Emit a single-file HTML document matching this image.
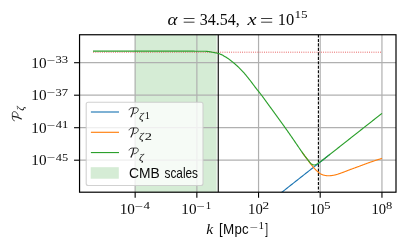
<!DOCTYPE html>
<html><head><meta charset="utf-8"><style>
html,body{margin:0;padding:0;background:#fff;width:408px;height:249px;overflow:hidden}
svg{display:block;will-change:transform}
.s{font-family:"Liberation Serif",serif}
.ss{font-family:"Liberation Sans",sans-serif}
text{fill:#0a0a0a}
</style></head><body>
<svg width="408" height="249" viewBox="0 0 408 249">
<defs><clipPath id="ax"><rect x="79.55" y="34.75" width="316.45" height="157.45"/></clipPath>
<path id="calP" d="M0.2,2.2 C0.6,0.9 1.6,0.3 3.2,0.2 L6.8,0.1 C8.6,0.05 9.5,0.8 9.4,2.2 C9.2,4.0 7.5,5.7 5.0,6.0" fill="none" stroke="#1a1a1a" stroke-width="0.8" stroke-linecap="round"/>
<path id="calS" d="M4.7,0.7 C4.5,3.6 3.7,6.6 2.1,9.2" fill="none" stroke="#1a1a1a" stroke-width="1.2" stroke-linecap="round"/>
</defs>
<rect x="134.8" y="34.75" width="81.8" height="157.45" fill="#2ca02c" fill-opacity="0.2"/>
<g stroke="#b0b0b0" stroke-width="1.2" fill="none">
<line x1="135.15" y1="34.75" x2="135.15" y2="192.2"/>
<line x1="196.85" y1="34.75" x2="196.85" y2="192.2"/>
<line x1="258.55" y1="34.75" x2="258.55" y2="192.2"/>
<line x1="320.2" y1="34.75" x2="320.2" y2="192.2"/>
<line x1="381.95" y1="34.75" x2="381.95" y2="192.2"/>
<line x1="79.55" y1="62.7" x2="396.0" y2="62.7"/>
<line x1="79.55" y1="95.2" x2="396.0" y2="95.2"/>
<line x1="79.55" y1="127.7" x2="396.0" y2="127.7"/>
<line x1="79.55" y1="160.2" x2="396.0" y2="160.2"/>
</g>
<g clip-path="url(#ax)" fill="none" stroke-linejoin="round" stroke-linecap="butt">
<line x1="93.2" y1="52.2" x2="382.2" y2="52.2" stroke="#e03535" stroke-opacity="0.85" stroke-width="1.0" stroke-dasharray="0.88 1.31"/>
<line x1="218.25" y1="34.75" x2="218.25" y2="192.2" stroke="#000" stroke-width="1.1"/>
<line x1="318.4" y1="34.75" x2="318.4" y2="192.2" stroke="#000" stroke-width="1.1" stroke-dasharray="3.12 1.35" stroke-dashoffset="0.32"/>
<path d="M270.00,201.60 L271.02,200.80 L272.03,200.00 L273.05,199.19 L274.07,198.39 L275.08,197.59 L276.10,196.79 L277.12,195.99 L278.14,195.19 L279.15,194.39 L280.17,193.58 L281.19,192.78 L282.20,191.98 L283.22,191.18 L284.24,190.38 L285.25,189.58 L286.27,188.78 L287.29,187.98 L288.31,187.17 L289.32,186.37 L290.34,185.57 L291.36,184.77 L292.37,183.97 L293.39,183.17 L294.41,182.37 L295.42,181.56 L296.44,180.76 L297.46,179.96 L298.47,179.16 L299.49,178.36 L300.51,177.56 L301.53,176.76 L302.54,175.96 L303.56,175.15 L304.58,174.35 L305.59,173.55 L306.61,172.75 L307.63,171.95 L308.64,171.15 L309.66,170.35 L310.68,169.54 L311.69,168.74 L312.71,167.94 L313.73,167.14 L314.75,166.34 L315.76,165.54 L316.78,164.74 L317.80,163.93 L318.81,163.13 L319.83,162.33 L320.85,161.53 L321.86,160.73 L322.88,159.93 L323.90,159.13 L324.92,158.33 L325.93,157.52 L326.95,156.72 L327.97,155.92 L328.98,155.12 L330.00,154.32" stroke="#1f77b4" stroke-width="1.15"/>
<path d="M302.00,152.08 L302.40,152.66 L302.80,153.23 L303.21,153.80 L303.61,154.36 L304.01,154.91 L304.41,155.46 L304.81,156.00 L305.22,156.53 L305.62,157.06 L306.02,157.58 L306.42,158.11 L306.82,158.63 L307.23,159.16 L307.63,159.69 L308.03,160.23 L308.43,160.78 L308.83,161.35 L309.24,161.94 L309.64,162.52 L310.04,163.10 L310.44,163.66 L310.84,164.19 L311.25,164.70 L311.65,165.21 L312.05,165.70 L312.45,166.18 L312.85,166.65 L313.26,167.12 L313.66,167.58 L314.06,168.04 L314.46,168.49 L314.86,168.93 L315.27,169.36 L315.67,169.77 L316.07,170.17 L316.47,170.55 L316.87,170.93 L317.28,171.30 L317.68,171.65 L318.08,171.99 L318.48,172.31 L318.88,172.62 L319.29,172.92 L319.69,173.22 L320.09,173.50 L320.49,173.76 L320.89,174.00 L321.30,174.20 L321.70,174.38 L322.10,174.55 L322.50,174.71 L322.90,174.86 L323.31,175.00 L323.71,175.12 L324.11,175.22 L324.51,175.30 L324.91,175.38 L325.32,175.45 L325.72,175.52 L326.12,175.59 L326.52,175.65 L326.92,175.70 L327.33,175.74 L327.73,175.77 L328.13,175.79 L328.53,175.80 L328.93,175.79 L329.34,175.77 L329.74,175.75 L330.14,175.71 L330.54,175.67 L330.94,175.63 L331.35,175.58 L331.75,175.53 L332.15,175.48 L332.55,175.43 L332.95,175.36 L333.36,175.29 L333.76,175.21 L334.16,175.13 L334.56,175.04 L334.96,174.95 L335.37,174.85 L335.77,174.76 L336.17,174.66 L336.57,174.55 L336.97,174.43 L337.38,174.31 L337.78,174.18 L338.18,174.05 L338.58,173.92 L338.98,173.78 L339.39,173.64 L339.79,173.50 L340.19,173.37 L340.59,173.23 L340.99,173.08 L341.40,172.94 L341.80,172.79 L342.20,172.64 L342.60,172.49 L343.01,172.34 L343.41,172.19 L343.81,172.03 L344.21,171.88 L344.61,171.72 L345.02,171.57 L345.42,171.41 L345.82,171.25 L346.22,171.10 L346.62,170.94 L347.03,170.78 L347.43,170.63 L347.83,170.47 L348.23,170.32 L348.63,170.16 L349.04,170.01 L349.44,169.86 L349.84,169.71 L350.24,169.56 L350.64,169.41 L351.05,169.26 L351.45,169.12 L351.85,168.97 L352.25,168.82 L352.65,168.67 L353.06,168.52 L353.46,168.38 L353.86,168.23 L354.26,168.08 L354.66,167.93 L355.07,167.79 L355.47,167.64 L355.87,167.49 L356.27,167.35 L356.67,167.20 L357.08,167.05 L357.48,166.91 L357.88,166.76 L358.28,166.61 L358.68,166.46 L359.09,166.32 L359.49,166.17 L359.89,166.02 L360.29,165.87 L360.69,165.72 L361.10,165.57 L361.50,165.42 L361.90,165.27 L362.30,165.12 L362.70,164.97 L363.11,164.82 L363.51,164.67 L363.91,164.52 L364.31,164.37 L364.71,164.22 L365.12,164.07 L365.52,163.92 L365.92,163.77 L366.32,163.62 L366.72,163.48 L367.13,163.33 L367.53,163.18 L367.93,163.04 L368.33,162.89 L368.73,162.75 L369.14,162.60 L369.54,162.46 L369.94,162.32 L370.34,162.18 L370.74,162.04 L371.15,161.90 L371.55,161.76 L371.95,161.63 L372.35,161.49 L372.75,161.35 L373.16,161.21 L373.56,161.08 L373.96,160.94 L374.36,160.81 L374.76,160.67 L375.17,160.54 L375.57,160.40 L375.97,160.27 L376.37,160.14 L376.77,160.01 L377.18,159.87 L377.58,159.74 L377.98,159.61 L378.38,159.48 L378.78,159.35 L379.19,159.22 L379.59,159.10 L379.99,158.97 L380.39,158.84 L380.79,158.71 L381.20,158.59 L381.60,158.46 L382.00,158.34" stroke="#ff7f0e" stroke-width="1.15"/>
<path d="M93.00,51.10 L93.48,51.10 L93.96,51.10 L94.45,51.10 L94.93,51.10 L95.41,51.10 L95.89,51.10 L96.38,51.10 L96.86,51.10 L97.34,51.10 L97.82,51.10 L98.31,51.10 L98.79,51.10 L99.27,51.10 L99.75,51.10 L100.24,51.10 L100.72,51.10 L101.20,51.10 L101.68,51.10 L102.17,51.10 L102.65,51.10 L103.13,51.10 L103.61,51.10 L104.10,51.10 L104.58,51.10 L105.06,51.10 L105.54,51.10 L106.03,51.10 L106.51,51.10 L106.99,51.10 L107.47,51.10 L107.96,51.10 L108.44,51.10 L108.92,51.10 L109.40,51.10 L109.89,51.10 L110.37,51.10 L110.85,51.10 L111.33,51.10 L111.82,51.10 L112.30,51.10 L112.78,51.10 L113.26,51.10 L113.75,51.10 L114.23,51.10 L114.71,51.10 L115.19,51.10 L115.68,51.10 L116.16,51.10 L116.64,51.10 L117.12,51.10 L117.61,51.10 L118.09,51.10 L118.57,51.10 L119.05,51.10 L119.54,51.10 L120.02,51.10 L120.50,51.10 L120.98,51.10 L121.47,51.10 L121.95,51.10 L122.43,51.10 L122.91,51.10 L123.40,51.10 L123.88,51.10 L124.36,51.10 L124.84,51.10 L125.33,51.10 L125.81,51.10 L126.29,51.10 L126.77,51.10 L127.26,51.10 L127.74,51.10 L128.22,51.10 L128.70,51.10 L129.19,51.10 L129.67,51.10 L130.15,51.10 L130.63,51.10 L131.12,51.10 L131.60,51.10 L132.08,51.10 L132.56,51.10 L133.05,51.10 L133.53,51.10 L134.01,51.10 L134.49,51.10 L134.97,51.10 L135.46,51.10 L135.94,51.10 L136.42,51.10 L136.90,51.10 L137.39,51.10 L137.87,51.10 L138.35,51.10 L138.83,51.10 L139.32,51.10 L139.80,51.10 L140.28,51.10 L140.76,51.10 L141.25,51.10 L141.73,51.10 L142.21,51.10 L142.69,51.10 L143.18,51.10 L143.66,51.10 L144.14,51.10 L144.62,51.10 L145.11,51.10 L145.59,51.10 L146.07,51.10 L146.55,51.10 L147.04,51.10 L147.52,51.10 L148.00,51.10 L148.48,51.10 L148.97,51.10 L149.45,51.10 L149.93,51.10 L150.41,51.10 L150.90,51.10 L151.38,51.10 L151.86,51.10 L152.34,51.10 L152.83,51.10 L153.31,51.10 L153.79,51.10 L154.27,51.10 L154.76,51.10 L155.24,51.10 L155.72,51.10 L156.20,51.10 L156.69,51.10 L157.17,51.10 L157.65,51.10 L158.13,51.10 L158.62,51.10 L159.10,51.10 L159.58,51.10 L160.06,51.10 L160.55,51.10 L161.03,51.10 L161.51,51.10 L161.99,51.10 L162.48,51.10 L162.96,51.10 L163.44,51.11 L163.92,51.11 L164.41,51.11 L164.89,51.11 L165.37,51.11 L165.85,51.11 L166.34,51.11 L166.82,51.11 L167.30,51.11 L167.78,51.11 L168.27,51.11 L168.75,51.11 L169.23,51.11 L169.71,51.11 L170.20,51.11 L170.68,51.11 L171.16,51.11 L171.64,51.11 L172.13,51.11 L172.61,51.12 L173.09,51.12 L173.57,51.12 L174.06,51.12 L174.54,51.12 L175.02,51.12 L175.50,51.12 L175.98,51.12 L176.47,51.12 L176.95,51.12 L177.43,51.12 L177.91,51.12 L178.40,51.12 L178.88,51.13 L179.36,51.13 L179.84,51.13 L180.33,51.13 L180.81,51.13 L181.29,51.13 L181.77,51.13 L182.26,51.13 L182.74,51.13 L183.22,51.13 L183.70,51.13 L184.19,51.14 L184.67,51.14 L185.15,51.14 L185.63,51.14 L186.12,51.14 L186.60,51.14 L187.08,51.14 L187.56,51.14 L188.05,51.15 L188.53,51.15 L189.01,51.15 L189.49,51.15 L189.98,51.15 L190.46,51.15 L190.94,51.15 L191.42,51.16 L191.91,51.16 L192.39,51.17 L192.87,51.17 L193.35,51.18 L193.84,51.19 L194.32,51.19 L194.80,51.20 L195.28,51.21 L195.77,51.21 L196.25,51.22 L196.73,51.23 L197.21,51.23 L197.70,51.24 L198.18,51.24 L198.66,51.25 L199.14,51.25 L199.63,51.25 L200.11,51.25 L200.59,51.25 L201.07,51.25 L201.56,51.25 L202.04,51.25 L202.52,51.25 L203.00,51.25 L203.49,51.25 L203.97,51.25 L204.45,51.25 L204.93,51.25 L205.42,51.26 L205.90,51.28 L206.38,51.31 L206.86,51.36 L207.35,51.42 L207.83,51.48 L208.31,51.55 L208.79,51.62 L209.28,51.69 L209.76,51.77 L210.24,51.84 L210.72,51.91 L211.21,52.00 L211.69,52.09 L212.17,52.19 L212.65,52.28 L213.14,52.38 L213.62,52.47 L214.10,52.56 L214.58,52.64 L215.07,52.73 L215.55,52.82 L216.03,52.92 L216.51,53.01 L216.99,53.12 L217.48,53.23 L217.96,53.35 L218.44,53.48 L218.92,53.63 L219.41,53.79 L219.89,53.98 L220.37,54.17 L220.85,54.38 L221.34,54.61 L221.82,54.85 L222.30,55.09 L222.78,55.35 L223.27,55.61 L223.75,55.88 L224.23,56.16 L224.71,56.44 L225.20,56.73 L225.68,57.01 L226.16,57.30 L226.64,57.59 L227.13,57.90 L227.61,58.22 L228.09,58.55 L228.57,58.89 L229.06,59.23 L229.54,59.59 L230.02,59.95 L230.50,60.33 L230.99,60.70 L231.47,61.08 L231.95,61.47 L232.43,61.86 L232.92,62.25 L233.40,62.65 L233.88,63.05 L234.36,63.45 L234.85,63.87 L235.33,64.28 L235.81,64.71 L236.29,65.14 L236.78,65.58 L237.26,66.02 L237.74,66.47 L238.22,66.92 L238.71,67.38 L239.19,67.85 L239.67,68.33 L240.15,68.81 L240.64,69.29 L241.12,69.78 L241.60,70.28 L242.08,70.79 L242.57,71.30 L243.05,71.83 L243.53,72.37 L244.01,72.92 L244.50,73.48 L244.98,74.05 L245.46,74.63 L245.94,75.21 L246.43,75.80 L246.91,76.40 L247.39,77.00 L247.87,77.59 L248.36,78.20 L248.84,78.80 L249.32,79.40 L249.80,80.02 L250.29,80.64 L250.77,81.27 L251.25,81.90 L251.73,82.54 L252.22,83.18 L252.70,83.83 L253.18,84.48 L253.66,85.12 L254.15,85.76 L254.63,86.41 L255.11,87.04 L255.59,87.67 L256.08,88.30 L256.56,88.91 L257.04,89.52 L257.52,90.13 L258.01,90.73 L258.49,91.33 L258.97,91.93 L259.45,92.54 L259.93,93.14 L260.42,93.75 L260.90,94.37 L261.38,95.00 L261.86,95.63 L262.35,96.27 L262.83,96.92 L263.31,97.57 L263.79,98.22 L264.28,98.88 L264.76,99.54 L265.24,100.21 L265.72,100.88 L266.21,101.54 L266.69,102.21 L267.17,102.89 L267.65,103.56 L268.14,104.23 L268.62,104.90 L269.10,105.56 L269.58,106.23 L270.07,106.89 L270.55,107.55 L271.03,108.21 L271.51,108.87 L272.00,109.53 L272.48,110.19 L272.96,110.86 L273.44,111.52 L273.93,112.18 L274.41,112.84 L274.89,113.50 L275.37,114.16 L275.86,114.82 L276.34,115.48 L276.82,116.15 L277.30,116.81 L277.79,117.48 L278.27,118.14 L278.75,118.81 L279.23,119.48 L279.72,120.15 L280.20,120.82 L280.68,121.49 L281.16,122.16 L281.65,122.83 L282.13,123.50 L282.61,124.18 L283.09,124.85 L283.58,125.52 L284.06,126.20 L284.54,126.88 L285.02,127.55 L285.51,128.23 L285.99,128.91 L286.47,129.58 L286.95,130.26 L287.44,130.94 L287.92,131.62 L288.40,132.31 L288.88,132.99 L289.37,133.68 L289.85,134.37 L290.33,135.06 L290.81,135.76 L291.30,136.46 L291.78,137.16 L292.26,137.87 L292.74,138.57 L293.23,139.28 L293.71,139.99 L294.19,140.69 L294.67,141.40 L295.16,142.11 L295.64,142.82 L296.12,143.52 L296.60,144.22 L297.09,144.92 L297.57,145.63 L298.05,146.33 L298.53,147.04 L299.02,147.74 L299.50,148.45 L299.98,149.15 L300.46,149.86 L300.94,150.56 L301.43,151.26 L301.91,151.95 L302.39,152.64 L302.87,153.32 L303.36,154.00 L303.84,154.67 L304.32,155.33 L304.80,155.97 L305.29,156.60 L305.77,157.22 L306.25,157.84 L306.73,158.45 L307.22,159.06 L307.70,159.67 L308.18,160.29 L308.66,160.91 L309.15,161.54 L309.63,162.15 L310.11,162.72 L310.59,163.23 L311.08,163.67 L311.56,164.05 L312.04,164.37 L312.52,164.62 L313.01,164.80 L313.49,164.91 L313.97,164.96 L314.45,164.95 L314.94,164.88 L315.42,164.75 L315.90,164.58 L316.38,164.36 L316.87,164.11 L317.35,163.84 L317.83,163.55 L318.31,163.24 L318.80,162.91 L319.28,162.57 L319.76,162.23 L320.24,161.88 L320.73,161.52 L321.21,161.16 L321.69,160.79 L322.17,160.42 L322.66,160.05 L323.14,159.68 L323.62,159.30 L324.10,158.93 L324.59,158.55 L325.07,158.18 L325.55,157.80 L326.03,157.42 L326.52,157.05 L327.00,156.67 L327.48,156.29 L327.96,155.91 L328.45,155.53 L328.93,155.15 L329.41,154.77 L329.89,154.39 L330.38,154.01 L330.86,153.64 L331.34,153.26 L331.82,152.88 L332.31,152.50 L332.79,152.12 L333.27,151.74 L333.75,151.36 L334.24,150.98 L334.72,150.60 L335.20,150.22 L335.68,149.84 L336.17,149.46 L336.65,149.08 L337.13,148.70 L337.61,148.32 L338.10,147.94 L338.58,147.56 L339.06,147.18 L339.54,146.80 L340.03,146.42 L340.51,146.04 L340.99,145.66 L341.47,145.28 L341.95,144.90 L342.44,144.52 L342.92,144.14 L343.40,143.76 L343.88,143.38 L344.37,143.00 L344.85,142.62 L345.33,142.24 L345.81,141.86 L346.30,141.48 L346.78,141.10 L347.26,140.72 L347.74,140.33 L348.23,139.95 L348.71,139.57 L349.19,139.19 L349.67,138.81 L350.16,138.43 L350.64,138.05 L351.12,137.67 L351.60,137.29 L352.09,136.91 L352.57,136.53 L353.05,136.15 L353.53,135.77 L354.02,135.39 L354.50,135.01 L354.98,134.63 L355.46,134.25 L355.95,133.87 L356.43,133.49 L356.91,133.11 L357.39,132.73 L357.88,132.35 L358.36,131.97 L358.84,131.59 L359.32,131.21 L359.81,130.83 L360.29,130.45 L360.77,130.07 L361.25,129.69 L361.74,129.31 L362.22,128.93 L362.70,128.55 L363.18,128.17 L363.67,127.79 L364.15,127.41 L364.63,127.03 L365.11,126.65 L365.60,126.27 L366.08,125.89 L366.56,125.51 L367.04,125.13 L367.53,124.75 L368.01,124.37 L368.49,123.99 L368.97,123.61 L369.46,123.23 L369.94,122.85 L370.42,122.47 L370.90,122.09 L371.39,121.71 L371.87,121.33 L372.35,120.95 L372.83,120.57 L373.32,120.19 L373.80,119.81 L374.28,119.43 L374.76,119.05 L375.25,118.66 L375.73,118.28 L376.21,117.90 L376.69,117.52 L377.18,117.14 L377.66,116.76 L378.14,116.38 L378.62,116.00 L379.11,115.62 L379.59,115.24 L380.07,114.86 L380.55,114.48 L381.04,114.10 L381.52,113.72 L382.00,113.34" stroke="#2ca02c" stroke-width="1.15"/>
</g>
<rect x="79.55" y="34.75" width="316.45" height="157.45" fill="none" stroke="#000" stroke-width="1.2"/>
<g stroke="#000" stroke-width="1.1">
<line x1="135.15" y1="192.2" x2="135.15" y2="197.7"/>
<line x1="196.85" y1="192.2" x2="196.85" y2="197.7"/>
<line x1="258.55" y1="192.2" x2="258.55" y2="197.7"/>
<line x1="320.2" y1="192.2" x2="320.2" y2="197.7"/>
<line x1="381.95" y1="192.2" x2="381.95" y2="197.7"/>
<line x1="79.55" y1="62.7" x2="74.05" y2="62.7"/>
<line x1="79.55" y1="95.2" x2="74.05" y2="95.2"/>
<line x1="79.55" y1="127.7" x2="74.05" y2="127.7"/>
<line x1="79.55" y1="160.2" x2="74.05" y2="160.2"/>
</g>
<rect x="86.2" y="102.2" width="116.8" height="83.3" rx="2" ry="2" fill="#fff" fill-opacity="0.8" stroke="#cccccc" stroke-opacity="0.9" stroke-width="1.1"/>
<line x1="90.9" y1="112.0" x2="119" y2="112.0" stroke="#1f77b4" stroke-width="1.15"/>
<line x1="90.9" y1="132.3" x2="119" y2="132.3" stroke="#ff7f0e" stroke-width="1.15"/>
<line x1="90.9" y1="152.55" x2="119" y2="152.55" stroke="#2ca02c" stroke-width="1.15"/>
<rect x="90.7" y="167.2" width="28.1" height="11.5" fill="#d5ecd5"/>
<g transform="translate(128.90,107.60)"><use href="#calP"/><use href="#calS"/></g>
<text class="s" font-style="italic" font-size="11.0" transform="translate(138.92,120.20) scale(1.060,1)">ζ</text>
<text class="s" font-size="9.5" transform="translate(144.80,119.40) scale(1.076,1)">1</text>
<g transform="translate(128.90,127.75)"><use href="#calP"/><use href="#calS"/></g>
<text class="s" font-style="italic" font-size="11.0" transform="translate(138.92,140.35) scale(1.060,1)">ζ</text>
<text class="s" font-size="9.5" transform="translate(144.76,139.55) scale(1.523,1)">2</text>
<g transform="translate(128.90,147.90)"><use href="#calP"/><use href="#calS"/></g>
<text class="s" font-style="italic" font-size="11.0" transform="translate(138.92,160.50) scale(1.060,1)">ζ</text>
<text class="ss" font-size="14.0" transform="translate(128.90,178.30) scale(0.988,1)">CMB</text>
<text class="ss" font-size="14.0" transform="translate(164.47,178.30) scale(0.846,1)">scales</text>
<text class="s" font-size="14.0" transform="translate(119.66,214.00) scale(1.087,1)">10</text>
<text class="s" font-size="10.0" transform="translate(134.86,209.60) scale(1.483,1)">−</text>
<text class="s" font-size="10.0" transform="translate(143.45,208.70) scale(1.291,1)">4</text>
<text class="s" font-size="14.0" transform="translate(181.36,214.00) scale(1.087,1)">10</text>
<text class="s" font-size="10.0" transform="translate(196.56,209.60) scale(1.483,1)">−</text>
<text class="s" font-size="10.0" transform="translate(205.65,208.70) scale(1.079,1)">1</text>
<text class="s" font-size="14.0" transform="translate(248.11,214.00) scale(1.046,1)">10</text>
<text class="s" font-size="10.0" transform="translate(262.42,208.70) scale(1.322,1)">2</text>
<text class="s" font-size="14.0" transform="translate(309.76,214.00) scale(1.046,1)">10</text>
<text class="s" font-size="10.0" transform="translate(323.89,208.70) scale(1.316,1)">5</text>
<text class="s" font-size="14.0" transform="translate(371.51,214.00) scale(1.046,1)">10</text>
<text class="s" font-size="10.0" transform="translate(385.92,208.70) scale(1.251,1)">8</text>
<text class="s" font-size="14.0" transform="translate(31.36,67.95) scale(1.087,1)">10</text>
<text class="s" font-size="10.0" transform="translate(46.64,63.85) scale(1.526,1)">−</text>
<text class="s" font-size="10.0" transform="translate(55.39,63.15) scale(1.270,1)">33</text>
<text class="s" font-size="14.0" transform="translate(31.36,100.45) scale(1.087,1)">10</text>
<text class="s" font-size="10.0" transform="translate(46.64,96.35) scale(1.526,1)">−</text>
<text class="s" font-size="10.0" transform="translate(55.40,95.65) scale(1.256,1)">37</text>
<text class="s" font-size="14.0" transform="translate(31.36,132.95) scale(1.087,1)">10</text>
<text class="s" font-size="10.0" transform="translate(46.64,128.85) scale(1.526,1)">−</text>
<text class="s" font-size="10.0" transform="translate(55.75,128.15) scale(1.260,1)">41</text>
<text class="s" font-size="14.0" transform="translate(31.36,165.45) scale(1.087,1)">10</text>
<text class="s" font-size="10.0" transform="translate(46.64,161.35) scale(1.526,1)">−</text>
<text class="s" font-size="10.0" transform="translate(55.76,160.65) scale(1.232,1)">45</text>
<text class="s" font-style="italic" font-size="15.8" transform="translate(167.44,25.10) scale(1.200,1)">α</text>
<g stroke="#1a1a1a" stroke-width="0.85"><line x1="183.7" y1="18.5" x2="194.5" y2="18.5"/><line x1="183.7" y1="22.2" x2="194.5" y2="22.2"/></g>
<text class="s" font-size="15.8" transform="translate(199.83,25.10) scale(1.012,1)">34.54,</text>
<text class="s" font-style="italic" font-size="15.8" transform="translate(247.45,25.10) scale(1.284,1)">x</text>
<g stroke="#1a1a1a" stroke-width="0.85"><line x1="261.1" y1="18.5" x2="272.2" y2="18.5"/><line x1="261.1" y1="22.2" x2="272.2" y2="22.2"/></g>
<text class="s" font-size="15.8" transform="translate(277.75,25.10) scale(1.043,1)">10</text>
<text class="s" font-size="11.0" transform="translate(294.54,18.30) scale(1.197,1)">15</text>
<text class="s" font-style="italic" font-size="13.9" transform="translate(206.15,234.00) scale(1.122,1)">k</text>
<text class="ss" font-size="14.0" transform="translate(218.97,234.00) scale(0.935,1)">[</text>
<text class="ss" font-size="14.0" transform="translate(223.00,234.00) scale(0.961,1)">M</text>
<text class="ss" font-size="14.0" transform="translate(234.55,234.00) scale(0.947,1)">pc</text>
<text class="s" font-size="9.0" transform="translate(249.36,229.50) scale(1.648,1)">−</text>
<text class="s" font-size="9.5" transform="translate(258.53,229.00) scale(1.166,1)">1</text>
<text class="ss" font-size="14.0" transform="translate(265.22,234.00) scale(0.719,1)">]</text>
<g transform="translate(21.6,121.0) rotate(-90)"><g transform="translate(0,-9.4)"><use href="#calP"/><use href="#calS"/></g><text class="s" font-style="italic" font-size="10" transform="translate(10.2,1.9) scale(1.1,1)">ζ</text></g>
</svg></body></html>
